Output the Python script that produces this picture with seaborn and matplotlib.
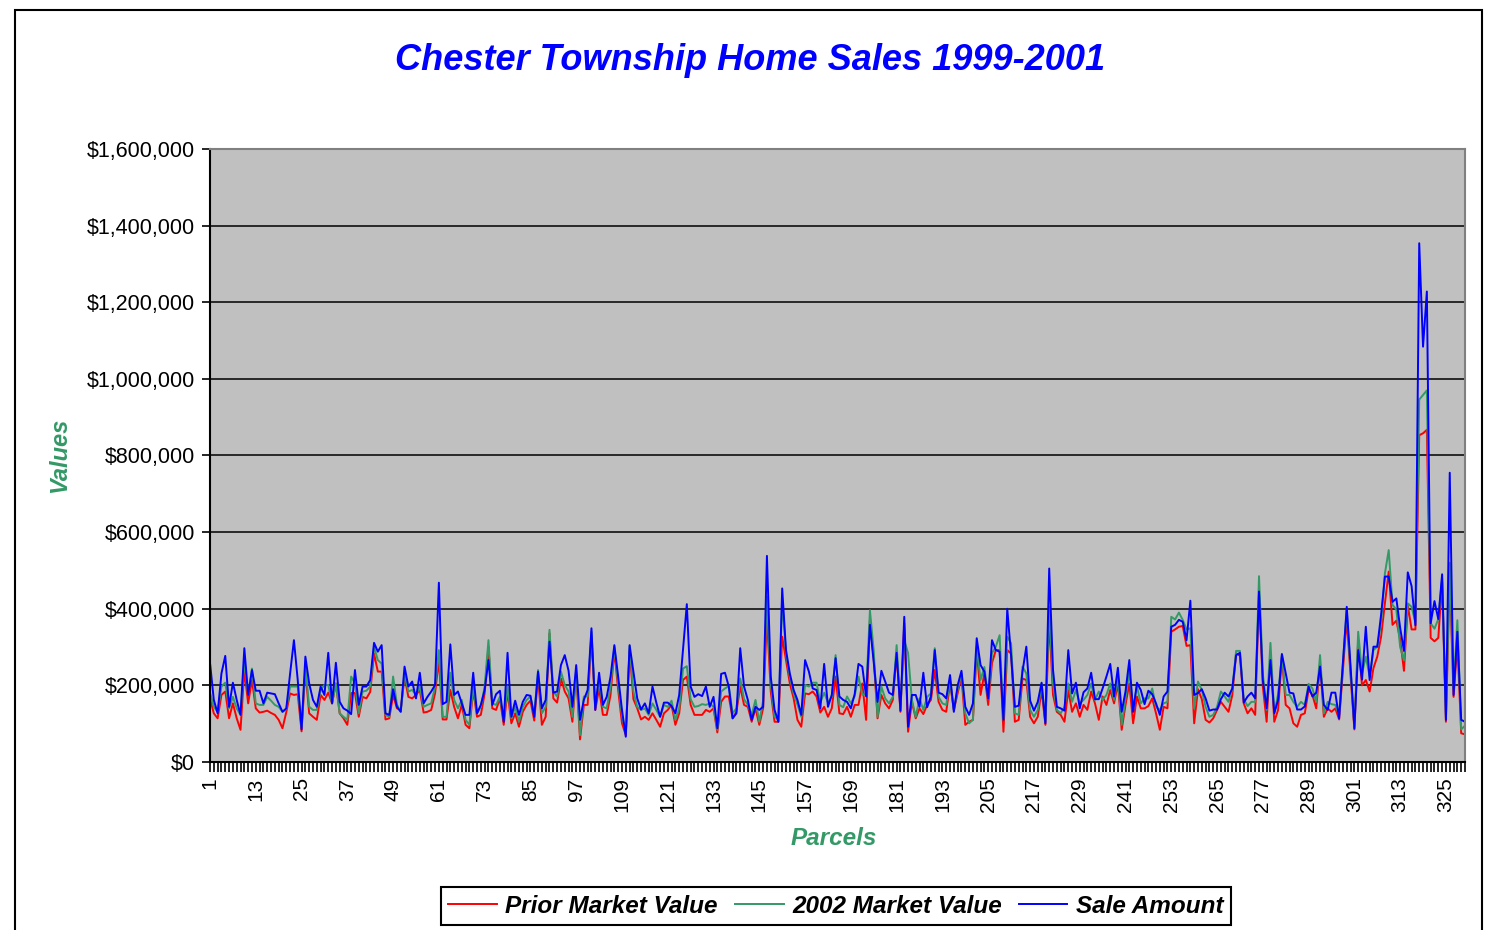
import numpy as np
import pandas as pd
import matplotlib
matplotlib.use("Agg")
import matplotlib.pyplot as plt
import seaborn as sns
from matplotlib.ticker import FuncFormatter, FixedLocator
from matplotlib.patches import Rectangle

# values in thousands of dollars, parcel 1..330
sale = [
    259, 162, 127, 231, 277, 144, 207, 162, 123, 297, 175, 240, 186, 186, 153, 181, 179, 177, 153, 131,
    140, 231, 318, 214, 85, 275, 205, 162, 144,
    197, 175, 285, 153, 259, 157, 140, 134, 125, 240, 149, 197, 197, 214, 311, 288, 305, 127, 123, 190,
    144, 131, 249, 197, 210, 166, 233, 153, 170,
    184, 201, 468, 151, 157, 307, 175, 184, 153, 123, 123, 233, 127, 149, 188, 266, 149, 177, 186, 105,
    285, 118, 160, 123, 157, 175, 173, 118, 236,
    140, 162, 314, 181, 184, 253, 279, 238, 144, 253, 110, 162, 188, 349, 136, 233, 149, 170, 223, 305,
    223, 136, 66, 305, 236, 166, 137, 153, 127,
    197, 155, 118, 155, 155, 146, 127, 175, 292, 412, 197, 170, 177, 172, 197, 144, 170, 88, 230, 233,
    197, 114, 127, 297, 197, 162, 110, 144, 136,
    144, 538, 223, 136, 105, 453, 292, 231, 188, 162, 123, 266, 236, 192, 188, 140, 256, 144, 175, 271,
    171, 162, 157, 140, 177, 256, 249, 171,
    358, 260, 157, 238, 210, 181, 175, 285, 134, 379, 92, 175, 175, 144, 233, 143, 172, 292, 181, 177,
    166, 227, 131, 200, 238, 144, 123, 153, 323,
    253, 236, 166, 318, 292, 288, 110, 400, 279, 144, 147, 236, 301, 160, 134, 157, 207, 101, 505, 240,
    144, 140, 134, 292, 179, 207, 140, 182, 192,
    233, 164, 164, 192, 223, 256, 171, 246, 131, 184, 266, 131, 207, 188, 151, 186, 177, 153, 123, 171,
    184, 353, 358, 371, 366, 318, 421, 175, 180,
    190, 166, 134, 137, 137, 164, 181, 171, 192, 279, 285, 155, 171, 181, 166, 445, 214, 140, 266, 127,
    162, 282, 231, 181, 179, 137, 137, 145, 197,
    171, 181, 249, 149, 136, 181, 181, 114, 260, 405, 249, 88, 292, 215, 353, 214, 301, 301, 384, 484,
    484, 418,
    427, 350, 290, 495, 459, 357, 1354, 1084, 1228, 362, 420, 373, 490, 110, 755, 175, 340, 110, 105,
]

mv2002 = [
    181, 144, 131, 197, 207, 140, 170, 140, 123, 266, 175, 244, 153, 149, 149, 170, 160, 149, 144, 131,
    138, 197, 197, 197, 90, 249, 144, 136, 136,
    188, 201, 201, 153, 205, 127, 118, 110, 223, 205, 127, 184, 186, 197, 301, 266, 257, 123, 118, 223,
    150, 131, 231, 184, 188, 175, 197, 144, 149,
    153, 197, 292, 118, 118, 233, 162, 140, 162, 110, 97, 197, 127, 144, 197, 318, 153, 149, 170, 110,
    197, 114, 144, 105, 144, 162, 171, 123, 240,
    127, 144, 345, 184, 171, 236, 201, 184, 118, 240, 70, 171, 171, 340, 144, 214, 144, 140, 197, 301,
    205, 123, 75, 303, 184, 144, 136, 140, 123,
    153, 136, 118, 149, 144, 160, 110, 140, 244, 250, 164, 144, 146, 151, 149, 153, 144, 84, 184, 192,
    198, 127, 140, 218, 164, 149, 123, 162, 105,
    160, 432, 205, 118, 110, 423, 284, 223, 179, 150, 118, 201, 197, 207, 207, 155, 181, 155, 171, 279,
    149, 143, 171, 153, 172, 223, 175, 179,
    396, 290, 118, 197, 166, 153, 170, 305, 144, 318, 284, 162, 118, 166, 136, 170, 179, 297, 170, 153,
    149, 214, 136, 190, 231, 127, 101, 110, 301,
    214, 248, 166, 284, 301, 331, 110, 327, 310, 127, 123, 249, 231, 136, 118, 136, 205, 105, 405, 205,
    136, 127, 144, 205, 157, 188, 153, 162, 175,
    205, 162, 184, 162, 175, 205, 162, 223, 97, 166, 236, 140, 197, 153, 166, 166, 192, 144, 136, 153,
    157, 379, 372, 390, 371, 346, 349, 140, 210,
    188, 144, 118, 123, 144, 184, 171, 157, 192, 290, 290, 164, 146, 157, 157, 485, 231, 136, 311, 127,
    177, 279, 175, 175, 157, 144, 157, 149, 204,
    192, 157, 279, 127, 157, 151, 149, 123, 260, 397, 240, 92, 340, 230, 275, 223, 292, 301, 362, 492,
    553, 410,
    398, 300, 265, 414, 405, 364, 946, 958, 970, 362, 348, 373, 480, 115, 520, 190, 370, 85, 95,
]

prior = [
    166, 127, 114, 175, 184, 114, 153, 114, 84, 240, 153, 214, 140, 129, 131, 134, 128, 123, 110, 88,
    130, 179, 175, 177, 80, 240, 127, 118, 110,
    175, 162, 181, 153, 205, 127, 114, 97, 180, 180, 118, 170, 166, 183, 283, 236, 236, 111, 114, 175,
    140, 136, 223, 170, 166, 175, 188, 129, 131,
    136, 179, 266, 111, 111, 188, 144, 114, 149, 97, 88, 188, 118, 123, 179, 301, 140, 136, 166, 97,
    184, 101, 127, 92, 131, 149, 160, 108, 223,
    97, 118, 336, 166, 155, 218, 184, 166, 105, 231, 59, 149, 149, 327, 136, 192, 123, 123, 175, 292,
    188, 101, 70, 292, 164, 140, 111, 118, 110,
    127, 110, 92, 127, 136, 149, 97, 127, 214, 223, 149, 123, 123, 123, 136, 131, 140, 77, 157, 171,
    171, 114, 131, 197, 149, 144, 105, 140, 97,
    140, 379, 184, 105, 105, 327, 266, 205, 166, 110, 92, 179, 177, 184, 171, 129, 144, 118, 140, 223,
    127, 125, 144, 118, 149, 149, 205, 110,
    371, 270, 114, 175, 153, 140, 162, 283, 131, 362, 79, 157, 114, 140, 125, 149, 162, 240, 157, 136,
    131, 205, 136, 180, 223, 97, 105, 110, 292,
    175, 231, 149, 258, 292, 292, 79, 292, 283, 105, 110, 218, 214, 118, 101, 118, 188, 97, 371, 175,
    131, 123, 105, 188, 131, 153, 118, 149, 136,
    184, 153, 110, 171, 149, 188, 153, 205, 84, 149, 205, 101, 171, 140, 140, 146, 166, 127, 84, 144,
    140, 340, 346, 353, 355, 303, 305, 101, 190,
    164, 110, 103, 114, 136, 157, 144, 131, 175, 284, 277, 153, 127, 140, 123, 440, 197, 105, 284, 105,
    136, 275, 149, 140, 101, 92, 123, 127, 188,
    175, 140, 258, 118, 140, 131, 140, 111, 240, 375, 225, 85, 318, 200, 214, 184, 245, 275, 327, 414,
    497, 358,
    369, 320, 238, 409, 346, 346, 853, 858, 867, 324, 315, 324, 470, 105, 490, 170, 310, 75, 72,
]

series_names = ["Prior Market Value", "2002 Market Value", "Sale Amount"]
series_colors = ["#FF0000", "#339966", "#0000FF"]
y_ticks = [0, 200000, 400000, 600000, 800000, 1000000, 1200000, 1400000, 1600000]
x_tick_labels = list(range(1, 326, 12))

n = len(sale)
assert len(mv2002) == n and len(prior) == n
parcels = np.arange(1, n + 1)

df = pd.DataFrame({
    "Parcels": np.concatenate([parcels] * 3),
    "Value": np.array(prior + mv2002 + sale) * 1000,
    "Series": np.repeat(series_names, n),
})

plt.rcParams['font.family'] = ['Liberation Sans', 'DejaVu Sans']

W, H = 1489, 930
fig = plt.figure(figsize=(W / 100, H / 100), dpi=100)
fig.patch.set_facecolor("white")
ax = fig.add_axes([210 / W, 1 - 762 / H, (1465 - 210) / W, (762 - 149) / H])
ax.set_facecolor("#C0C0C0")

sns.lineplot(data=df, x="Parcels", y="Value", hue="Series", hue_order=series_names,
             palette=dict(zip(series_names, series_colors)), linewidth=1.4, ax=ax, legend=True)

ax.set_xlim(1, n)
ax.set_ylim(0, 1600000)
ax.yaxis.set_major_locator(FixedLocator(y_ticks))
ax.yaxis.set_major_formatter(FuncFormatter(lambda v, p: "${:,.0f}".format(v)))
ax.xaxis.set_major_locator(FixedLocator(x_tick_labels))
ax.xaxis.set_minor_locator(FixedLocator(parcels))
ax.set_xticklabels([str(t) for t in x_tick_labels], rotation=90)
ax.tick_params(axis="x", which="both", length=7, width=1.2, color="black", labelsize=15, pad=4)
ax.tick_params(axis="y", length=6, width=1.2, labelsize=15.5, pad=5)
ax.grid(axis="y", color="black", linewidth=1.1)
ax.grid(axis="x", visible=False)
ax.set_axisbelow(True)
ax.set_xlabel("")
ax.set_ylabel("")
for side in ["left", "bottom"]:
    ax.spines[side].set_color("black")
    ax.spines[side].set_linewidth(1.5)
for side in ["top", "right"]:
    ax.spines[side].set_color("#808080")
    ax.spines[side].set_linewidth(1.5)

fig.text(750 / W, 1 - 61 / H, "Chester Township Home Sales 1999-2001", color="#0000FF",
         fontsize=26, fontweight="bold", fontstyle="italic", ha="center", va="center")
fig.text(60 / W, 1 - 455 / H, "Values", color="#339966", fontsize=17, fontweight="bold",
         fontstyle="italic", rotation=90, ha="center", va="center")
fig.text(834 / W, 1 - 838 / H, "Parcels", color="#339966", fontsize=17.5, fontweight="bold",
         fontstyle="italic", ha="center", va="center")

handles, labels = ax.get_legend_handles_labels()
leg = ax.legend(handles, labels, loc="center", bbox_to_anchor=(836 / W, 1 - 906 / H),
                bbox_transform=fig.transFigure, ncol=3, frameon=True, fancybox=False,
                edgecolor="black", framealpha=1, handlelength=2.0, handletextpad=0.35,
                columnspacing=0.7, borderpad=0.3, borderaxespad=0,
                prop={"size": 17.5, "weight": "bold", "style": "italic"})
leg.get_frame().set_linewidth(1.5)

fig.patches.append(Rectangle((15 / W, -0.01), (1482 - 15) / W, 1 - 10 / H + 0.01,
                             transform=fig.transFigure, fill=False, edgecolor="black", linewidth=1.5))

fig.savefig("out.png", dpi=100)
